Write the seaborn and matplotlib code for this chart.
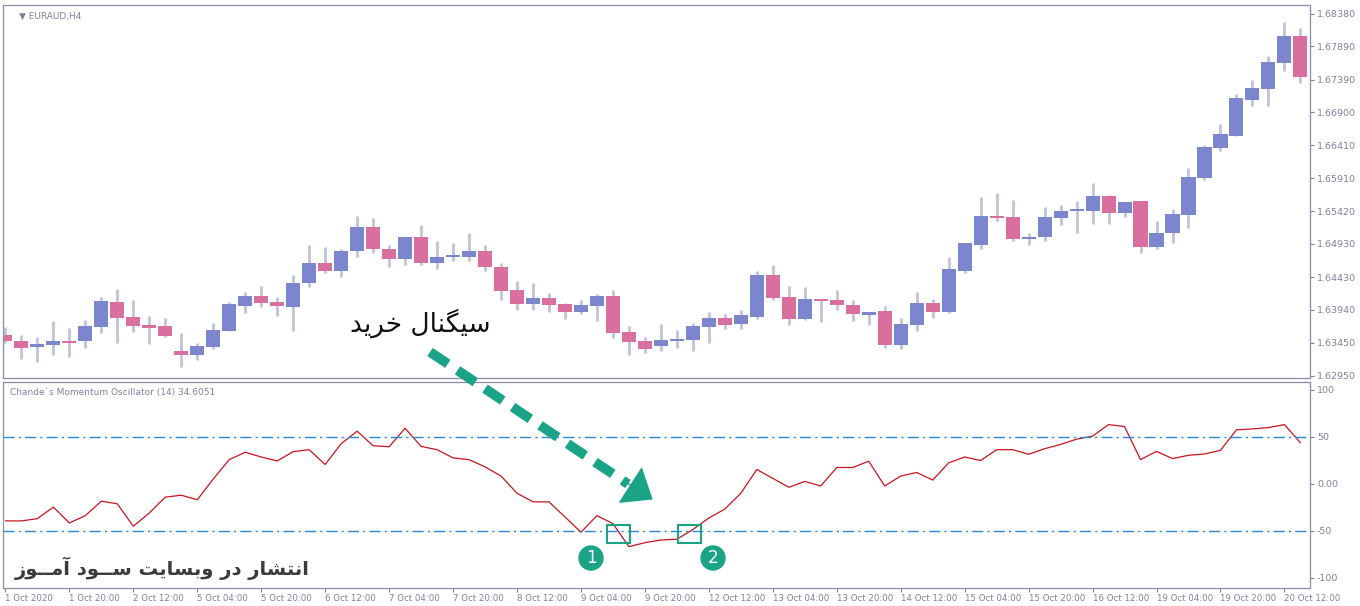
import matplotlib
matplotlib.use("Agg")
import matplotlib.pyplot as plt
import numpy as np
import pandas as pd
import seaborn as sns
from matplotlib.patches import Rectangle, Circle, FancyArrowPatch

# EURAUD H4 candles, 1 Oct 2020 00:00 .. 20 Oct 2020
opens = [1.6357, 1.6348, 1.6339, 1.6342, 1.6348, 1.6348, 1.6369, 1.6406, 1.6384, 1.6372,
         1.6370, 1.6333, 1.6327, 1.6339, 1.6363, 1.6400, 1.6415, 1.6406, 1.6398, 1.6434,
         1.6465, 1.6453, 1.6483, 1.6519, 1.6486, 1.6471, 1.6504, 1.6465, 1.6473, 1.6474,
         1.6482, 1.6459, 1.6424, 1.6403, 1.6412, 1.6403, 1.6391, 1.6400, 1.6415, 1.6361,
         1.6348, 1.6340, 1.6348, 1.6349, 1.6369, 1.6382, 1.6373, 1.6384, 1.6447, 1.6413,
         1.6381, 1.6410, 1.6409, 1.6401, 1.6387, 1.6393, 1.6342, 1.6372, 1.6404, 1.6391,
         1.6453, 1.6492, 1.6535, 1.6534, 1.6501, 1.6504, 1.6532, 1.6543, 1.6543, 1.6565,
         1.6540, 1.6558, 1.6489, 1.6510, 1.6537, 1.6592, 1.6636, 1.6655, 1.6709, 1.6725,
         1.6764, 1.6805]
highs = [1.6369, 1.6357, 1.6354, 1.6378, 1.6367, 1.6379, 1.6413, 1.6425, 1.6409, 1.6385,
         1.6382, 1.6360, 1.6345, 1.6375, 1.6406, 1.6421, 1.6430, 1.6413, 1.6446, 1.6491,
         1.6489, 1.6486, 1.6535, 1.6532, 1.6492, 1.6504, 1.6522, 1.6498, 1.6494, 1.6510,
         1.6491, 1.6465, 1.6437, 1.6434, 1.6419, 1.6404, 1.6409, 1.6418, 1.6424, 1.6370,
         1.6354, 1.6373, 1.6364, 1.6375, 1.6391, 1.6388, 1.6394, 1.6452, 1.6461, 1.6430,
         1.6428, 1.6410, 1.6424, 1.6409, 1.6391, 1.6400, 1.6382, 1.6421, 1.6410, 1.6473,
         1.6495, 1.6563, 1.6569, 1.6559, 1.6509, 1.6549, 1.6552, 1.6558, 1.6584, 1.6566,
         1.6556, 1.6558, 1.6528, 1.6546, 1.6607, 1.6641, 1.6672, 1.6718, 1.6739, 1.6774,
         1.6826, 1.6816]
lows = [1.6345, 1.6320, 1.6316, 1.6327, 1.6323, 1.6337, 1.6360, 1.6345, 1.6361, 1.6343,
        1.6354, 1.6308, 1.6319, 1.6336, 1.6363, 1.6390, 1.6398, 1.6385, 1.6363, 1.6428,
        1.6449, 1.6443, 1.6474, 1.6480, 1.6458, 1.6461, 1.6461, 1.6456, 1.6468, 1.6468,
        1.6453, 1.6409, 1.6394, 1.6394, 1.6391, 1.6381, 1.6388, 1.6378, 1.6352, 1.6327,
        1.6329, 1.6332, 1.6337, 1.6333, 1.6345, 1.6366, 1.6366, 1.6381, 1.6409, 1.6372,
        1.6379, 1.6376, 1.6394, 1.6378, 1.6372, 1.6337, 1.6336, 1.6363, 1.6382, 1.6390,
        1.6450, 1.6485, 1.6528, 1.6498, 1.6491, 1.6498, 1.6522, 1.6510, 1.6523, 1.6523,
        1.6534, 1.6480, 1.6485, 1.6494, 1.6517, 1.6589, 1.6632, 1.6654, 1.6699, 1.6699,
        1.6752, 1.6734]
closes = [1.6348, 1.6337, 1.6343, 1.6348, 1.6345, 1.6370, 1.6407, 1.6382, 1.6370, 1.6367,
          1.6355, 1.6326, 1.6340, 1.6364, 1.6403, 1.6415, 1.6404, 1.6400, 1.6435, 1.6465,
          1.6453, 1.6483, 1.6519, 1.6486, 1.6471, 1.6504, 1.6464, 1.6474, 1.6476, 1.6482,
          1.6458, 1.6422, 1.6403, 1.6412, 1.6401, 1.6391, 1.6401, 1.6415, 1.6360, 1.6346,
          1.6336, 1.6349, 1.6351, 1.6370, 1.6382, 1.6372, 1.6387, 1.6447, 1.6412, 1.6381,
          1.6410, 1.6407, 1.6401, 1.6388, 1.6391, 1.6342, 1.6373, 1.6404, 1.6391, 1.6455,
          1.6494, 1.6535, 1.6532, 1.6500, 1.6504, 1.6534, 1.6543, 1.6546, 1.6565, 1.6540,
          1.6556, 1.6489, 1.6510, 1.6538, 1.6593, 1.6638, 1.6657, 1.6711, 1.6727, 1.6765,
          1.6805, 1.6743]

# Chande momentum oscillator (14)
cmo = [-39.5, -39.5, -37.1, -24.8, -41.7, -33.9, -18.5, -21.3, -45.2, -31.1,
       -14.2, -12.1, -17.0, 5.1, 25.8, 33.6, 28.6, 24.4, 34.3, 36.4,
       20.6, 42.7, 56.1, 40.6, 39.5, 59.2, 39.9, 36.4, 27.6, 25.8,
       18.1, 8.3, -10.0, -19.2, -19.2, -35.3, -51.5, -33.9, -42.4, -67.0,
       -62.7, -59.9, -59.0, -48.7, -36.4, -26.9, -10.0, 15.3, 5.8, -3.7,
       2.6, -2.3, 17.4, 17.4, 24.1, -2.3, 8.3, 12.1, 4.0, 22.3,
       28.6, 24.8, 36.4, 36.4, 31.5, 37.4, 42.0, 47.6, 50.8, 63.1,
       61.0, 25.8, 34.6, 26.9, 30.4, 31.8, 35.7, 57.5, 58.5, 59.9,
       63.1, 43.8]

date_labels = ["1 Oct 2020", "1 Oct 20:00", "2 Oct 12:00", "5 Oct 04:00", "5 Oct 20:00",
               "6 Oct 12:00", "7 Oct 04:00", "7 Oct 20:00", "8 Oct 12:00", "9 Oct 04:00",
               "9 Oct 20:00", "12 Oct 12:00", "13 Oct 04:00", "13 Oct 20:00", "14 Oct 12:00",
               "15 Oct 04:00", "15 Oct 20:00", "16 Oct 12:00", "19 Oct 04:00", "19 Oct 20:00",
               "20 Oct 12:00"]
price_ticks = [1.68380, 1.67890, 1.67390, 1.66900, 1.66410, 1.65910, 1.65420,
               1.64930, 1.64430, 1.63940, 1.63450, 1.62950]
cmo_ticks = [100, 50, 0, -50, -100]
cmo_tick_labels = ["100", "50", "0.00", "-50", "-100"]

df = pd.DataFrame({"open": opens, "high": highs, "low": lows, "close": closes, "cmo": cmo})
df["i"] = np.arange(len(df))

sns.set_style("white")
plt.rcParams["font.family"] = ["DejaVu Sans"]

BLUE = "#7b86cc"
PINK = "#d96f9f"
WICK = "#bfc3dc"
GRID = "#8a8ea6"
TXT = "#7d8199"

fig = plt.figure(figsize=(13.6, 6.06), dpi=100)
ax = fig.add_axes([3 / 1360, 1 - 378 / 606, 1307 / 1360, 373 / 606])
ax2 = fig.add_axes([3 / 1360, 1 - 588 / 606, 1307 / 1360, 206 / 606])

# candles
up = df["close"] >= df["open"]
ax.vlines(df["i"], df["low"], df["high"], color=WICK, lw=2, zorder=1)
body_lo = df[["open", "close"]].min(axis=1)
body_h = (df["close"] - df["open"]).abs().clip(lower=0.00004)
ax.bar(df["i"], body_h, bottom=body_lo, width=0.88,
       color=np.where(up, BLUE, PINK), zorder=2, linewidth=0)

ax.set_xlim(-0.15, 81.6)
ax.set_ylim(1.6292, 1.6851)
ax.yaxis.tick_right()
ax.set_yticks(price_ticks)
ax.set_yticklabels([f"{t:.5f}" for t in price_ticks])
ax.set_xticks([])
ax.tick_params(axis="y", labelsize=6.8, colors=TXT, length=3, pad=2, direction="out", right=True)
ax.text(0.012, 0.982, "\u25bc EURAUD,H4", transform=ax.transAxes, fontsize=6.5,
        color=TXT, va="top")

# oscillator
sns.lineplot(data=df, x="i", y="cmo", ax=ax2, color="#c8141e", lw=0.9)
for lvl in (50, -50):
    ax2.axhline(lvl, color="#2a86d0", lw=1.0, ls=(0, (8, 3, 1.5, 3)))
ax2.set_xlim(-0.15, 81.6)
ax2.set_ylim(-111, 108.5)
ax2.yaxis.tick_right()
ax2.set_yticks(cmo_ticks)
ax2.set_yticklabels(cmo_tick_labels)
ax2.set_xticks(np.arange(0, 81, 4))
ax2.set_xticklabels(date_labels, ha="left")
ax2.set_xlabel("")
ax2.set_ylabel("")
ax2.tick_params(axis="y", labelsize=6.8, colors=TXT, length=3, pad=2, direction="out", right=True)
ax2.tick_params(axis="x", labelsize=6.2, colors=TXT, length=3, pad=1, direction="out", bottom=True)
ax2.text(0.005, 0.97, "Chande`s Momentum Oscillator (14) 34.6051", transform=ax2.transAxes,
         fontsize=6.5, color=TXT, va="top")

for a in (ax, ax2):
    for s in a.spines.values():
        s.set_color(GRID)
        s.set_linewidth(0.9)

# Persian annotations (presentation forms, visual order)
signal = "\uFEAA\uFBFE\uFEAE\uFEA7 \uFEDD\uFE8E\uFEE8\uFB95\uFBFF\uFEB3"
fig.text(420 / 1360, 1 - 323 / 606, signal, fontsize=19, ha="center", va="center",
         color="#111111", family=["DejaVu Sans"])
mark = ("\uFEAF\uFEEE\u0640\u0640\uFEE3\uFE81 \uFEA9\uFEEE\u0640\u0640\uFEB3 "
        "\uFE96\uFBFE\uFE8E\uFEB4\uFE91\uFEED \uFEAD\uFEA9 \uFEAD\uFE8E\uFEB8\uFE98\uFEE7\uFE8D")
fig.text(15 / 1360, 1 - 568 / 606, mark, fontsize=14, fontweight="bold", ha="left",
         va="center", color="#3b3b3b", family=["DejaVu Sans"])

GREEN = "#1aa386"
fig.add_artist(plt.Line2D([430 / 1360, 628 / 1360], [1 - 352 / 606, 1 - 484 / 606],
                          color=GREEN, lw=7, ls=(0, (2.2, 1.2)), transform=fig.transFigure))
fig.add_artist(FancyArrowPatch((624 / 1360, 1 - 481 / 606), (655 / 1360, 1 - 501 / 606),
                               transform=fig.transFigure, arrowstyle="-|>,head_length=10,head_width=8",
                               color=GREEN, lw=1, mutation_scale=1.8))

for x0, num, cx in ((607, "1", 591), (678, "2", 713)):
    fig.add_artist(Rectangle((x0 / 1360, 1 - 543 / 606), 23 / 1360, 18 / 606, fill=False,
                             ec=GREEN, lw=1.5, transform=fig.transFigure))
    fig.add_artist(Circle((cx, 606 - 558), 12, color=GREEN, transform=None))
    fig.text(cx / 1360, 1 - 558 / 606, num, color="white", fontsize=12, ha="center",
             va="center")

fig.savefig("out.png", dpi=100)
